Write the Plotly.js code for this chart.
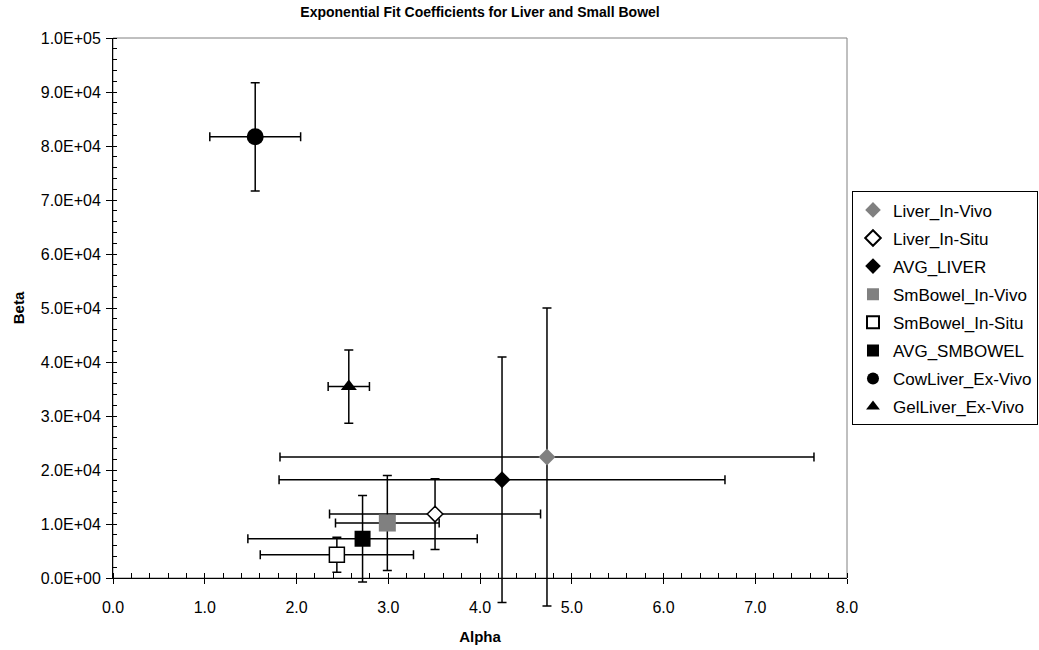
<!DOCTYPE html>
<html>
<head>
<meta charset="utf-8">
<script src="https://cdn.plot.ly/plotly-3.0.1.min.js"></script>
<style>html,body{margin:0;padding:0;background:#fff;overflow:hidden}#chart{width:1039px;height:650px}</style>
</head>
<body>
<div id="chart"></div>
<script>
// ---- data ----
const seriesNames = ["Liver_In-Vivo","Liver_In-Situ","AVG_LIVER","SmBowel_In-Vivo","SmBowel_In-Situ","AVG_SMBOWEL","CowLiver_Ex-Vivo","GelLiver_Ex-Vivo"];
const alpha    = [4.73, 3.51, 4.24, 2.99, 2.44, 2.72, 1.55, 2.57];
const beta     = [22400, 11840, 18190, 10180, 4310, 7270, 81700, 35450];
const alphaErr = [2.91, 1.15, 2.43, 0.565, 0.835, 1.25, 0.495, 0.225];
const betaErr  = [27600, 6540, 22750, 8790, 3240, 8000, 10030, 6790];
const yTickVals = [0, 10000, 20000, 30000, 40000, 50000, 60000, 70000, 80000, 90000, 100000];
const yTickText = ["0.0E+00","1.0E+04","2.0E+04","3.0E+04","4.0E+04","5.0E+04","6.0E+04","7.0E+04","8.0E+04","9.0E+04","1.0E+05"];

// ---- styles ----
const symbols   = ["diamond","diamond","diamond","square","square","square","circle","triangle-up"];
const fills     = ["#808080","#ffffff","#000000","#808080","#ffffff","#000000","#000000","#000000"];
const lineW     = [0, 1.5, 0, 0, 1.5, 0, 0, 0];
const sizes     = [13, 12, 13, 17, 15, 16, 17, 14];
const FONT = "Arial, 'Liberation Sans', sans-serif";

const traces = seriesNames.map((n, i) => ({
  type: "scatter", mode: "markers", name: n, legendgroup: "g" + i,
  x: [alpha[i]], y: [beta[i]], cliponaxis: false,
  marker: {symbol: symbols[i], color: fills[i], size: sizes[i], line: {color: "#000", width: lineW[i]}},
  error_x: {type: "data", array: [alphaErr[i]], visible: true, color: "#000", thickness: 1.5, width: 4.5},
  error_y: {type: "data", array: [betaErr[i]], visible: true, color: "#000", thickness: 1.5, width: 4.5},
  hoverinfo: "x+y+name"
}));

const layout = {
  width: 1039, height: 650,
  margin: {l: 113, r: 192, t: 38, b: 72, autoexpand: false},
  paper_bgcolor: "#fff", plot_bgcolor: "#fff",
  font: {family: FONT, color: "#000"},
  title: {text: "Exponential Fit Coefficients for Liver and Small Bowel",
          font: {family: "'Liberation Sans Narrow', 'Arial Narrow', Arial, sans-serif", size: 14, weight: "bold", color: "#000"},
          x: 0.462, xanchor: "center", y: 0.981, yanchor: "middle"},
  showlegend: true,
  legend: {x: 1.0068, xanchor: "left", y: 0.716, yanchor: "top",
           bordercolor: "#000", borderwidth: 1, bgcolor: "#fff",
           font: {family: FONT, size: 17, color: "#000"},
           traceorder: "grouped", tracegroupgap: 3, itemsizing: "constant"},
  xaxis: {range: [0, 8], dtick: 1, tick0: 0, tickformat: ".1f",
          showline: true, linecolor: "#000", linewidth: 1, mirror: false,
          showgrid: false, zeroline: false,
          ticks: "outside", ticklen: 5, tickwidth: 1, tickcolor: "#000",
          ticklabelstandoff: 10,
          minor: {ticks: "inside", dtick: 0.2, ticklen: 5, tickwidth: 1, tickcolor: "#000", showgrid: false},
          tickfont: {family: FONT, size: 16, color: "#000"},
          title: {text: "Alpha", font: {family: FONT, size: 15, weight: "bold", color: "#000"}, standoff: 16}},
  xaxis2: {overlaying: "x", anchor: "y", range: [0, 8], dtick: 1, tick0: 0,
           showline: false, showgrid: false, zeroline: false, showticklabels: false,
           ticks: "inside", ticklen: 5, tickwidth: 1, tickcolor: "#000"},
  yaxis: {range: [0, 100000], tickvals: yTickVals, ticktext: yTickText,
          showline: true, linecolor: "#000", linewidth: 1,
          showgrid: false, zeroline: false,
          ticks: "outside", ticklen: 6, tickwidth: 1, tickcolor: "#000",
          ticklabelstandoff: 2,
          minor: {ticks: "inside", dtick: 2000, tick0: 0, ticklen: 4, tickwidth: 1, tickcolor: "#000", showgrid: false},
          tickfont: {family: FONT, size: 16, color: "#000"},
          title: {text: "Beta", font: {family: FONT, size: 15, weight: "bold", color: "#000"}, standoff: 12}},
  yaxis2: {overlaying: "y", anchor: "x", range: [0, 100000], tickvals: yTickVals,
           showline: false, showgrid: false, zeroline: false, showticklabels: false,
           ticks: "inside", ticklen: 4, tickwidth: 1, tickcolor: "#000"},
  shapes: [{type: "rect", xref: "paper", yref: "paper", x0: 0, x1: 1, y0: 0, y1: 1,
            line: {color: "#808080", width: 1}, layer: "below"}]
};

Plotly.newPlot("chart", traces, layout, {displayModeBar: false, staticPlot: true}).then(() => {
  // let error bars run past the axis like the original chart
  document.querySelectorAll("#chart .cartesianlayer [clip-path]").forEach(el => el.removeAttribute("clip-path"));
});
</script>
</body>
</html>
